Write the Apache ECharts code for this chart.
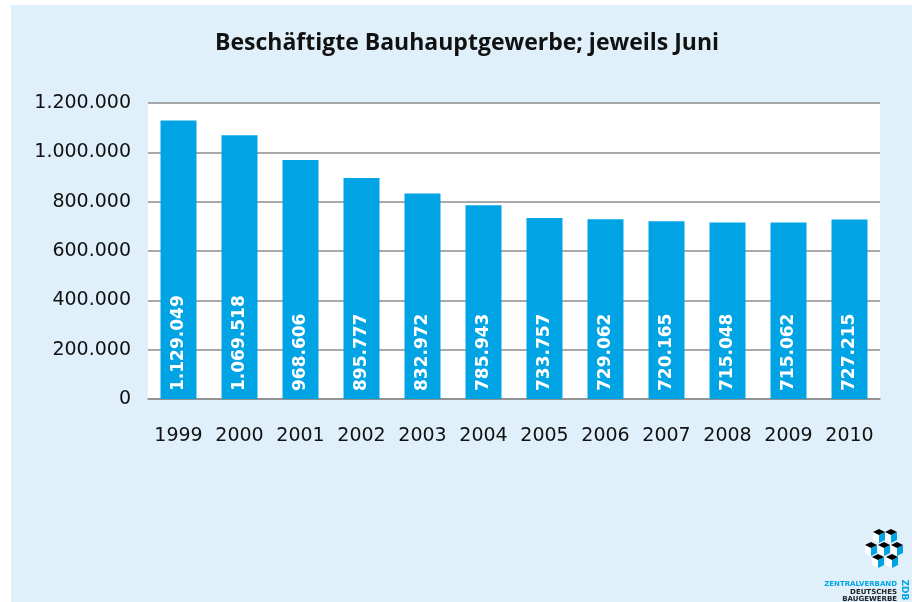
<html lang="de">
  <head>
    <meta charset="utf-8" />
    <title>Beschäftigte Bauhauptgewerbe</title>
    <script src="https://cdn.jsdelivr.net/npm/echarts@6/dist/echarts.min.js"></script>
    <style>
      body { margin: 0; background: #fff; }
      #main { position: absolute; left: 11px; top: 5px; width: 901px; height: 597px; background: #dff0fa; }
    </style>
  </head>
  <body>
    <div id="main"></div>
    <script type="text/javascript">
      var years = ['1999', '2000', '2001', '2002', '2003', '2004', '2005', '2006', '2007', '2008', '2009', '2010'];
      var employees = [1129049, 1069518, 968606, 895777, 832972, 785943, 733757, 729062, 720165, 715048, 715062, 727215];
      var yTicks = [0, 200000, 400000, 600000, 800000, 1000000, 1200000];

      function fmt(v) {
        return String(v).replace(/\B(?=(\d{3})+(?!\d))/g, '.');
      }

      // little isometric cube logo (decoration only), top points in div coords
      var cubeTops = [[868, 524], [880, 524], [860, 537], [873, 537], [886, 537], [867, 549], [881, 549]];
      var logo = [];
      cubeTops.forEach(function (c) {
        var x = c[0], y = c[1], w = 6, h = 3, s = 8;
        logo.push({ type: 'polygon', shape: { points: [[x - w, y + h], [x, y + 2 * h], [x, y + 2 * h + s], [x - w, y + h + s]] }, style: { fill: '#fff' } });
        logo.push({ type: 'polygon', shape: { points: [[x, y + 2 * h], [x + w, y + h], [x + w, y + h + s], [x, y + 2 * h + s]] }, style: { fill: '#00a4e4' } });
        logo.push({ type: 'polygon', shape: { points: [[x, y], [x + w, y + h], [x, y + 2 * h], [x - w, y + h]] }, style: { fill: '#000' } });
      });
      logo.push(
        { type: 'text', x: 886, y: 579, style: { text: 'ZENTRALVERBAND', fill: '#00a4e4', font: 'bold 7px DejaVu Sans', textAlign: 'right', textVerticalAlign: 'middle' } },
        { type: 'text', x: 886, y: 587, style: { text: 'DEUTSCHES', fill: '#222', font: 'bold 7px DejaVu Sans', textAlign: 'right', textVerticalAlign: 'middle' } },
        { type: 'text', x: 886, y: 594, style: { text: 'BAUGEWERBE', fill: '#222', font: 'bold 7px DejaVu Sans', textAlign: 'right', textVerticalAlign: 'middle' } },
        { type: 'text', x: 893, y: 585, rotation: -Math.PI / 2, style: { text: 'ZDB', fill: '#00a4e4', font: 'bold 9px DejaVu Sans', textAlign: 'center', textVerticalAlign: 'middle' } }
      );

      var myChart = echarts.init(document.getElementById('main'));
      var option = {
        animation: false,
        textStyle: { fontFamily: 'DejaVu Sans' },
        title: {
          text: 'Beschäftigte Bauhauptgewerbe; jeweils Juni',
          left: 199,
          top: 22,
          textStyle: { fontSize: 23, fontWeight: 'bold', color: '#111', fontFamily: 'Open Sans' }
        },
        grid: { left: 137, right: 32, top: 98, bottom: 203, containLabel: false, show: true, backgroundColor: '#fff', borderWidth: 0 },
        xAxis: {
          type: 'category',
          data: years,
          axisLine: { lineStyle: { color: '#8c8c8c', width: 1.5 } },
          axisTick: { show: false },
          axisLabel: { fontSize: 19, color: '#111', margin: 28, interval: 0 }
        },
        yAxis: {
          type: 'value',
          min: yTicks[0],
          max: yTicks[yTicks.length - 1],
          interval: 200000,
          axisLine: { show: false },
          axisTick: { show: false },
          splitLine: { lineStyle: { color: '#8c8c8c', width: 1.5 } },
          axisLabel: { fontSize: 19, color: '#111', margin: 17, formatter: fmt }
        },
        series: [{
          type: 'bar',
          data: employees,
          barWidth: '59%',
          itemStyle: { color: '#00a4e4' },
          label: {
            show: true,
            position: 'insideBottom',
            rotate: 90,
            align: 'left',
            verticalAlign: 'middle',
            distance: 8,
            color: '#fff',
            fontSize: 17,
            fontWeight: 'bold',
            fontFamily: 'DejaVu Sans',
            formatter: function (p) { return fmt(p.value); }
          }
        }],
        graphic: logo
      };
      myChart.setOption(option);
    </script>
  </body>
</html>
